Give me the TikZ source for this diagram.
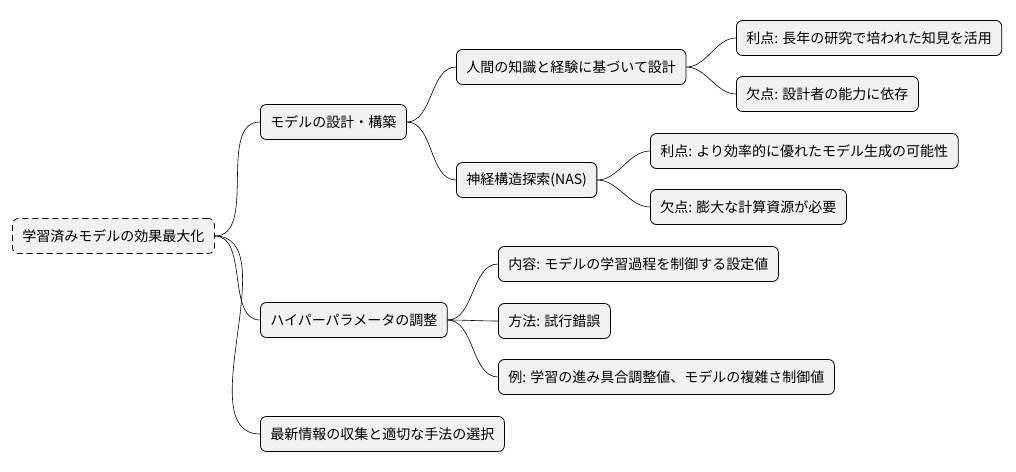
\documentclass[tikz,border=0pt]{standalone}
\usepackage{fontspec}
\setmainfont{Noto Sans CJK JP}
\usetikzlibrary{positioning}

\definecolor{boxfill}{HTML}{F1F1F1}
\tikzset{
  idea/.style={draw=black, fill=boxfill, rounded corners=6pt, line width=0.8pt,
    minimum height=35pt, inner xsep=10pt, font=\fontsize{14}{16}\selectfont, anchor=west},
  root/.style={idea, dashed, dash pattern=on 6pt off 4pt},
  link/.style={line width=0.6pt, out=0, in=180, looseness=0.9}
}

\begin{document}
\begin{tikzpicture}[x=1pt,y=-1pt]
\useasboundingbox (0,0) rectangle (1016,471);

% root
\node[root] (goal) at (12,236) {学習済みモデルの効果最大化};

% design branch
\node[idea] (design) at (260,122) {モデルの設計・構築};
\node[idea] (human) at (456,67) {人間の知識と経験に基づいて設計};
\node[idea] (humanpro) at (736,38) {利点: 長年の研究で培われた知見を活用};
\node[idea] (humancon) at (736,94) {欠点: 設計者の能力に依存};
\node[idea] (nas) at (456,180) {神経構造探索(NAS)};
\node[idea] (naspro) at (650,151) {利点: より効率的に優れたモデル生成の可能性};
\node[idea] (nascon) at (650,207) {欠点: 膨大な計算資源が必要};

% hyperparameter branch
\node[idea] (hyper) at (260,320) {ハイパーパラメータの調整};
\node[idea] (content) at (498,264) {内容: モデルの学習過程を制御する設定値};
\node[idea] (method) at (498,321) {方法: 試行錯誤};
\node[idea] (example) at (498,377) {例: 学習の進み具合調整値、モデルの複雑さ制御値};

% latest info
\node[idea] (latest) at (260,434) {最新情報の収集と適切な手法の選択};

% connectors
\foreach \a/\b in {goal/design, goal/hyper, goal/latest,
                   design/human, design/nas,
                   human/humanpro, human/humancon,
                   nas/naspro, nas/nascon,
                   hyper/content, hyper/method, hyper/example}
  \draw[link] (\a.east) to (\b.west);
\end{tikzpicture}
\end{document}
